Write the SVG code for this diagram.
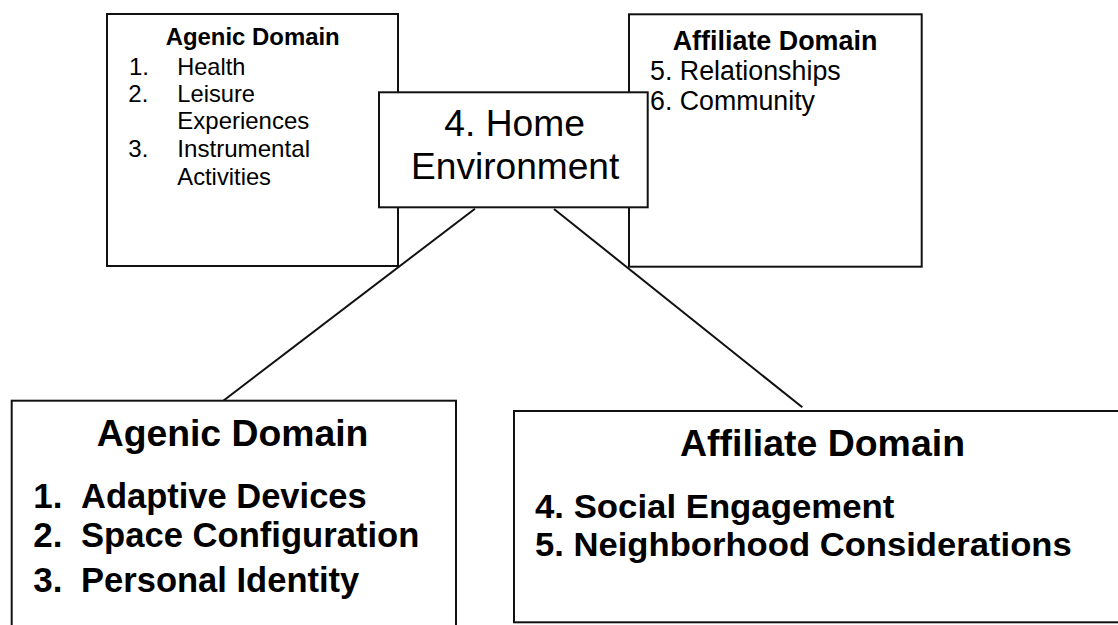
<svg xmlns="http://www.w3.org/2000/svg" width="1118" height="625" viewBox="0 0 1118 625">
<style>
.box{fill:#fff;stroke:#111;stroke-width:2}
.t{font-family:"Liberation Sans",Arial,sans-serif;fill:#000}
.b{font-weight:bold}
.conn{stroke:#111;stroke-width:2;fill:none}
</style>
<rect x="0" y="0" width="1118" height="625" fill="#fff"/>
<g id="agenic-top">
<rect class="box" x="107" y="14" width="291" height="252"/>
<text class="t b" x="165.7" y="45.3" font-size="24" textLength="174" lengthAdjust="spacingAndGlyphs">Agenic Domain</text>
<text class="t" x="129" y="75" font-size="24">1.</text>
<text class="t" x="177.3" y="75" font-size="24" textLength="68" lengthAdjust="spacingAndGlyphs">Health</text>
<text class="t" x="128.3" y="102.3" font-size="24">2.</text>
<text class="t" x="177.3" y="102.3" font-size="24" textLength="77.7" lengthAdjust="spacingAndGlyphs">Leisure</text>
<text class="t" x="177.3" y="129.3" font-size="24" textLength="132" lengthAdjust="spacingAndGlyphs">Experiences</text>
<text class="t" x="128.3" y="157.3" font-size="24">3.</text>
<text class="t" x="177.3" y="157.3" font-size="24" textLength="132.7" lengthAdjust="spacingAndGlyphs">Instrumental</text>
<text class="t" x="177.3" y="185" font-size="24" textLength="93.7" lengthAdjust="spacingAndGlyphs">Activities</text>
</g>
<g id="affiliate-top">
<rect class="box" x="629" y="14.3" width="292.7" height="252.4"/>
<text class="t b" x="672.7" y="50" font-size="27" textLength="204.7" lengthAdjust="spacingAndGlyphs">Affiliate Domain</text>
<text class="t" x="650" y="80" font-size="27" textLength="190.7" lengthAdjust="spacingAndGlyphs">5. Relationships</text>
<text class="t" x="650" y="110" font-size="27" textLength="165" lengthAdjust="spacingAndGlyphs">6. Community</text>
</g>
<g id="connectors">
<line class="conn" x1="475" y1="208.7" x2="223.3" y2="400.7"/>
<line class="conn" x1="554" y1="209" x2="802.3" y2="407.3"/>
</g>
<g id="home">
<rect class="box" x="379" y="92.3" width="268.7" height="115"/>
<text class="t" x="444.3" y="135.7" font-size="37" textLength="140.7" lengthAdjust="spacingAndGlyphs">4. Home</text>
<text class="t" x="411" y="179.3" font-size="37" textLength="208.3" lengthAdjust="spacingAndGlyphs">Environment</text>
</g>
<g id="agenic-bottom">
<rect class="box" x="11.7" y="400.7" width="444.3" height="240"/>
<text class="t b" x="96.7" y="445.7" font-size="37" textLength="271.7" lengthAdjust="spacingAndGlyphs">Agenic Domain</text>
<text class="t b" x="33.3" y="508.3" font-size="35">1.</text>
<text class="t b" x="81" y="508.3" font-size="35" textLength="285.7" lengthAdjust="spacingAndGlyphs">Adaptive Devices</text>
<text class="t b" x="33.3" y="546.7" font-size="35">2.</text>
<text class="t b" x="81" y="546.7" font-size="35" textLength="338.3" lengthAdjust="spacingAndGlyphs">Space Configuration</text>
<text class="t b" x="33.3" y="591.7" font-size="35">3.</text>
<text class="t b" x="81" y="591.7" font-size="35" textLength="278.3" lengthAdjust="spacingAndGlyphs">Personal Identity</text>
</g>
<g id="affiliate-bottom">
<rect class="box" x="514" y="411" width="620" height="211.3"/>
<text class="t b" x="680" y="455.7" font-size="37" textLength="285" lengthAdjust="spacingAndGlyphs">Affiliate Domain</text>
<text class="t b" x="535" y="517.7" font-size="33" textLength="359.3" lengthAdjust="spacingAndGlyphs">4. Social Engagement</text>
<text class="t b" x="535" y="555.7" font-size="33" textLength="536.7" lengthAdjust="spacingAndGlyphs">5. Neighborhood Considerations</text>
</g>
</svg>
